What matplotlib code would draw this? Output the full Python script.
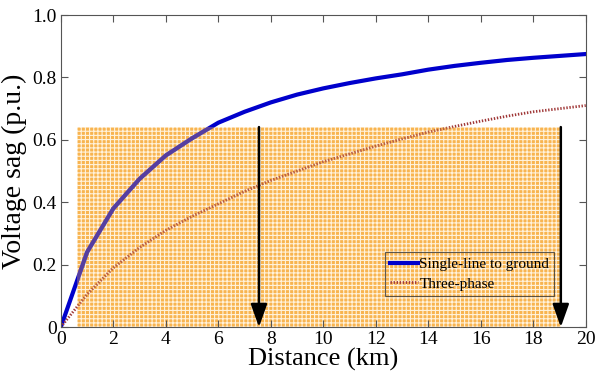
import numpy as np
import matplotlib
matplotlib.use("Agg")
import matplotlib.pyplot as plt
from matplotlib.patches import Rectangle

# data
distance = [0, 1, 2, 3, 4, 5, 6, 7, 8, 9, 10, 11, 12, 13, 14, 15, 16, 17, 18, 19, 20]
slg_sag = [0, 0.24, 0.38, 0.475, 0.55, 0.605, 0.655, 0.69, 0.72, 0.745, 0.765,
           0.782, 0.797, 0.81, 0.825, 0.837, 0.847, 0.856, 0.863, 0.869, 0.875]
three_sag = [0, 0.105, 0.19, 0.255, 0.31, 0.355, 0.395, 0.435, 0.47, 0.50, 0.53,
             0.555, 0.58, 0.603, 0.625, 0.643, 0.66, 0.676, 0.69, 0.70, 0.71]

# shaded zone and arrows
zone_x = (0.6, 19.05)
zone_top = 0.641
arrow_x = [7.55, 19.05]
zone_color = '#F8B450'

plt.rcParams['font.family'] = ['Liberation Serif', 'DejaVu Serif']
plt.rcParams['hatch.linewidth'] = 0.8

fig = plt.figure(figsize=(6.02, 3.76), dpi=100)
ax = fig.add_axes([0.101, 0.130, 0.872, 0.830])

zone = Rectangle((zone_x[0], 0), zone_x[1] - zone_x[0], zone_top,
                 facecolor=zone_color, edgecolor='#FFF2DC', hatch='++++',
                 lw=0, zorder=1)
ax.add_patch(zone)

ax.plot(distance, slg_sag, color='#0000CC', lw=3, label='Single-line to ground', zorder=2)
ax.plot(distance, three_sag, color='#A03838', lw=2, ls=(0, (0.5, 0.6)), label='Three-phase', zorder=2)
# tinted copies inside the zone
tint1, = ax.plot(distance, slg_sag, color=zone_color, lw=3, alpha=0.35, zorder=2.5)
tint2, = ax.plot(distance, three_sag, color=zone_color, lw=2, alpha=0.3, zorder=2.5,
                 ls=(0, (0.5, 0.6)))
tint1.set_clip_path(zone)
tint2.set_clip_path(zone)

for xa in arrow_x:
    ax.annotate('', xy=(xa, 0.0), xytext=(xa, zone_top),
                arrowprops=dict(arrowstyle='-|>,head_width=0.5,head_length=1.4',
                                color='black', lw=1.8, shrinkA=0, shrinkB=0),
                zorder=5)

ax.set_xlim(0, 20)
ax.set_ylim(0, 1.0)
ax.set_xticks(range(0, 21, 2))
ax.set_yticks([0, 0.2, 0.4, 0.6, 0.8, 1.0])
ax.set_yticklabels(['0', '0.2', '0.4', '0.6', '0.8', '1.0'])
ax.tick_params(direction='in', top=True, right=True, labelsize=14, length=5,
               color='#555555', pad=3)
for s in ax.spines.values():
    s.set_color('#555555')

ax.set_xlabel('Distance (km)', fontsize=19, labelpad=0)
ax.set_ylabel('Voltage sag (p.u.)', fontsize=20, labelpad=4)

leg = ax.legend(loc='lower right', bbox_to_anchor=(0.955, 0.075), fontsize=11,
                frameon=True, fancybox=False, facecolor='none', edgecolor='#333333',
                handlelength=1.8, handletextpad=0.1, borderpad=0.35,
                labelspacing=0.4)
leg.set_zorder(6)
leg.get_frame().set_linewidth(0.8)

fig.savefig('out.png', dpi=100)
